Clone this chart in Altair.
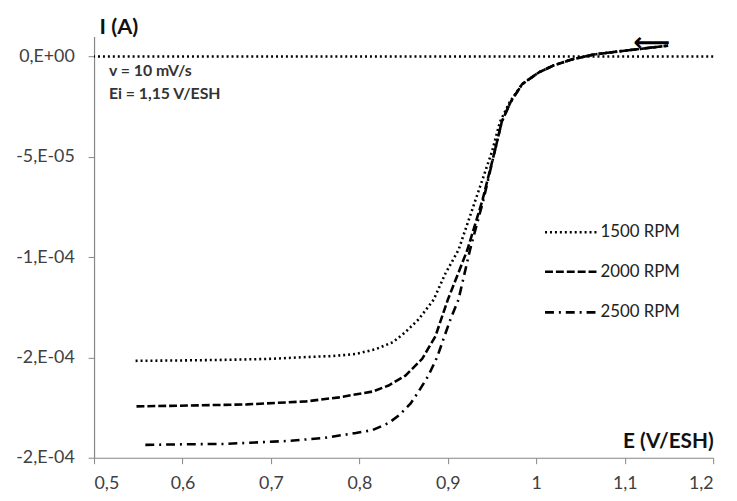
import altair as alt
import pandas as pd

# ---- data, current in microamperes ----
E_1500 = [0.547, 0.600, 0.650, 0.700, 0.740, 0.770, 0.796, 0.819, 0.838, 0.852, 0.867, 0.884,
          0.897, 0.912, 0.931, 0.950, 0.959, 0.970, 0.984, 1.003, 1.020, 1.040, 1.065, 1.102, 1.149]
I_1500 = [-151.7, -151.5, -151.2, -150.7, -149.8, -149.3, -148.3, -145.8, -142.4, -137.4, -131.0, -121.2,
          -108.4, -96.5, -71.9, -47.3, -32.5, -22.7, -13.8, -7.9, -4.4, -1.5, 1.0, 3.0, 5.4]

E_2000 = [0.548, 0.617, 0.673, 0.740, 0.777, 0.815, 0.833, 0.852, 0.871, 0.886, 0.900, 0.911,
          0.922, 0.939, 0.953, 0.961, 0.971, 0.984, 1.003, 1.020, 1.040, 1.065, 1.102, 1.149]
I_2000 = [-174.4, -173.9, -173.4, -171.9, -169.9, -167.0, -164.0, -159.1, -150.7, -139.4, -121.2, -108.9,
          -96.5, -71.9, -47.3, -32.5, -22.7, -13.8, -7.9, -4.4, -1.5, 1.0, 3.0, 5.4]

E_2500 = [0.558, 0.600, 0.648, 0.721, 0.760, 0.796, 0.815, 0.833, 0.845, 0.858, 0.867, 0.878, 0.888,
          0.895, 0.903, 0.912, 0.925, 0.940, 0.953, 0.961, 0.971, 0.984, 1.003, 1.020, 1.040, 1.065,
          1.102, 1.149]
I_2500 = [-193.6, -193.3, -193.1, -191.6, -190.1, -187.7, -186.2, -182.7, -178.8, -172.9, -167.0, -159.1,
          -149.8, -140.9, -131.0, -121.2, -96.5, -71.9, -47.3, -32.5, -22.7, -13.8, -7.9, -4.4, -1.5,
          1.0, 3.0, 5.4]

series = ["1500 RPM", "2000 RPM", "2500 RPM"]
x_ticks = [0.5, 0.6, 0.7, 0.8, 0.9, 1.0, 1.1, 1.2]
y_ticks = [-2e-4, -1.5e-4, -1e-4, -5e-5, 0]
y_tick_labels = ["-2,E-04", "-2,E-04", "-1,E-04", "-5,E-05", "0,E+00"]
notes = ["v = 10 mV/s", "Ei = 1,15 V/ESH"]

# styles (not data)
DASHES = [[2, 3], [8, 3], [9, 5, 2, 5]]

rows = []
for name, es, is_ in zip(series, [E_1500, E_2000, E_2500], [I_1500, I_2000, I_2500]):
    for k, (e, i) in enumerate(zip(es, is_)):
        rows.append({"series": name, "E": e, "I": i * 1e-6, "k": k})
df = pd.DataFrame(rows)

FONT = "Lato"
AX = "#868686"

label_js = "[" + ",".join("'%s'" % s for s in y_tick_labels) + "]"

x_enc = alt.X("E:Q", scale=alt.Scale(domain=[0.5, 1.2], nice=False),
              axis=alt.Axis(values=x_ticks, title="E (V/ESH)", grid=False,
                            labelExpr="replace(format(datum.value, '~g'), '.', ',')",
                            titleAnchor="end", titleAlign="right", titleBaseline="bottom",
                            titleX=626, titleY=-6, titleFontSize=21, titleFontWeight="bold",
                            titleFont=FONT, titleColor="#111"))
y_enc = alt.Y("I:Q", scale=alt.Scale(domain=[-2e-4, 1e-5], nice=False, zero=False),
              axis=alt.Axis(values=y_ticks, title="I (A)", grid=False,
                            labelExpr=label_js + "[round((datum.value+0.0002)/0.00005)]",
                            titleAngle=0, titleAlign="left", titleBaseline="bottom",
                            titleX=5, titleY=2, titleFontSize=22, titleFontWeight="bold",
                            titleFont=FONT, titleColor="#111"))

zero = alt.Chart(pd.DataFrame({"I": [0.0]})).mark_rule(
    color="black", strokeWidth=2.4, strokeDash=[2, 3]).encode(y=y_enc)

lines = alt.Chart(df).mark_line(color="black", strokeWidth=2.6).encode(
    x=x_enc, y=y_enc, order="k:Q",
    strokeDash=alt.StrokeDash("series:N",
                              scale=alt.Scale(domain=series, range=DASHES), legend=None),
)

# manual legend (layout positions in pixels)
legend_layers = []
for name, dash, yy in zip(series, DASHES, [198, 238, 279]):
    legend_layers.append(
        alt.Chart(pd.DataFrame({"t": [name]})).mark_rule(
            color="black", strokeWidth=2.6, strokeDash=dash
        ).encode(x=alt.value(456), x2=alt.value(508), y=alt.value(yy))
    )
    legend_layers.append(
        alt.Chart(pd.DataFrame({"t": [name]})).mark_text(
            align="left", baseline="middle", font=FONT, fontSize=17, fontWeight="normal",
            color="#222"
        ).encode(text="t:N", x=alt.value(512), y=alt.value(yy))
    )

note_layers = []
for t, yy in zip(notes, [35, 58]):
    note_layers.append(
        alt.Chart(pd.DataFrame({"t": [t]})).mark_text(
            align="left", baseline="middle", font=FONT, fontSize=16, fontWeight="bold", color="#333"
        ).encode(text="t:N", x=alt.value(15), y=alt.value(yy))
    )

arrow = alt.Chart(pd.DataFrame({"t": ["\u27f5"]})).mark_text(
    font="DejaVu Sans", fontSize=26, fontWeight="bold", color="black", align="center", baseline="middle"
).encode(text="t:N", x=alt.value(564), y=alt.value(7))

chart = alt.layer(zero, lines, *legend_layers, *note_layers, arrow).properties(
    width=626, height=426,
    autosize=alt.AutoSizeParams(type="none"),
    padding={"left": 87, "top": 26, "right": 16, "bottom": 41},
    background="white",
).configure_view(stroke=None).configure_axis(
    domainColor=AX, tickColor=AX, tickSize=6, labelFont=FONT, labelFontSize=18,
    labelColor="#404040", domainWidth=1.2,
).configure_axisY(labelPadding=14).configure_axisX(labelPadding=11)

chart.save("out.html", embed_options={"renderer": "svg", "actions": False})
